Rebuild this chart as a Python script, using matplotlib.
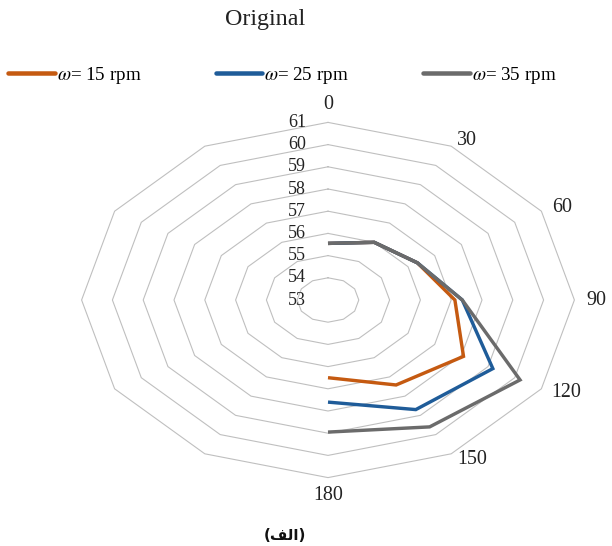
import numpy as np
import matplotlib
matplotlib.use('Agg')
import matplotlib.pyplot as plt

# ---------------- data ----------------
cat_angles = [0, 30, 60, 90, 120, 150, 180, 210, 240, 270, 300, 330]
cat_labels = ['0', '30', '60', '90', '120', '150', '180', '', '', '', '', '']
data_angles = [0, 30, 60, 90, 120, 150, 180]
r_ticks = [53, 54, 55, 56, 57, 58, 59, 60, 61]
series_names = [r'$\omega$= 15 rpm', r'$\omega$= 25 rpm', r'$\omega$= 35 rpm']
w15 = [55.55, 56.0, 56.35, 57.12, 58.08, 57.42, 56.5]
w25 = [55.55, 56.0, 56.35, 57.36, 59.18, 58.7, 57.6]
w35 = [55.55, 56.0, 56.35, 57.36, 60.2, 59.6, 58.95]
colors = ['#C55A11', '#1F5C99', '#6B6B6B']
title = 'Original'
caption = '(\uFED2\uFEDF\uFE8D)'  # (الف) in visual presentation forms

# ---------------- style ----------------
plt.rcParams['font.family'] = ['Liberation Serif', 'DejaVu Serif']
plt.rcParams['mathtext.fontset'] = 'stix'

W, H = 612, 546
fig = plt.figure(figsize=(W / 72, H / 72), dpi=72)
ax = fig.add_axes([0, 0, 1, 1])
ax.set_axis_off()

# chart is stretched horizontally (as in the reference)
cx, cy = 328, 300
ux, uy = 30.8, 22.2
ax.set_xlim(-cx / ux, (W - cx) / ux)
ax.set_ylim((cy - H) / uy, cy / uy)

rmin = r_ticks[0]

def to_xy(angles, values):
    th = np.deg2rad(np.asarray(angles, float))
    r = np.asarray(values, float) - rmin
    return r * np.sin(th), r * np.cos(th)

# grid polygons
for v in r_ticks[1:]:
    ang = cat_angles + [cat_angles[0]]
    x, y = to_xy(ang, [v] * len(ang))
    ax.plot(x, y, color='#BFBFBF', lw=1.1, zorder=1)

# radial tick labels
for v in r_ticks:
    ax.annotate(str(v), xy=(0, v - rmin), xytext=(-22, 0), textcoords='offset points',
                ha='right', va='center', fontsize=18, color='#222222')

# category labels
rmax = r_ticks[-1]
for a, lab in zip(cat_angles, cat_labels):
    if not lab:
        continue
    x, y = to_xy([a], [rmax])
    s, c = np.sin(np.deg2rad(a)), np.cos(np.deg2rad(a))
    if abs(s) < 1e-6:
        ha = 'center'
        off = (0, 18 * c)
    else:
        ha = 'left'
        off = (12 * s, 7 * c)
    ax.annotate(lab, xy=(x[0], y[0]), xytext=off, textcoords='offset points',
                ha=ha, va='center', fontsize=20, color='#222222')

# series
lines = []
for vals, col, name in zip([w15, w25, w35], colors, series_names):
    x, y = to_xy(data_angles, vals)
    ln, = ax.plot(x, y, color=col, lw=3.4, label=name, zorder=3,
                  solid_joinstyle='miter', solid_capstyle='butt')
    lines.append(ln)

fig.text(265 / W, 1 - 19 / H, title, ha='center', va='center', fontsize=24, color='#222222')

leg = fig.legend(handles=lines, loc='center left', bbox_to_anchor=(8 / W, 1 - 75 / H), ncol=3,
                 frameon=False, fontsize=19, handlelength=2.45, handletextpad=0.12,
                 columnspacing=3.9, borderpad=0.0, borderaxespad=0.0)
for h in leg.legend_handles:
    h.set_linewidth(4.5)
    h.set_solid_capstyle('round')

fig.text(285 / W, 1 - 535 / H, caption, ha='center', va='center', fontsize=15,
         fontweight='bold', family=['DejaVu Sans'], color='#111111')

fig.savefig('out.png', dpi=72)
